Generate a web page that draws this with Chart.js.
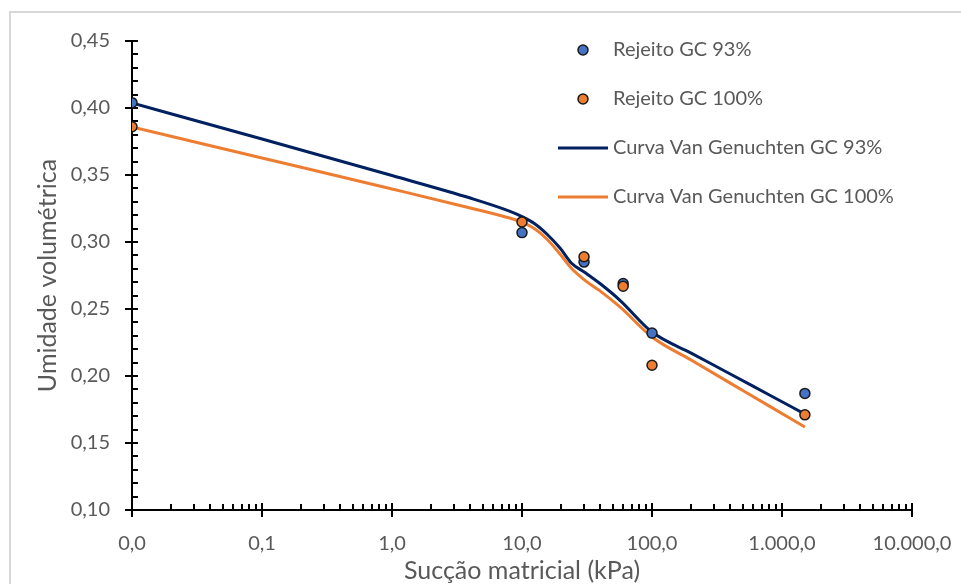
<!DOCTYPE html>
<html>
<head>
<meta charset="utf-8">
<script src="https://cdn.jsdelivr.net/npm/chart.js@4.4.0/dist/chart.umd.min.js"></script>
<style>
  body { margin: 0; background: #fff; }
  #wrap { width: 961px; height: 584px; }
</style>
</head>
<body>
<div id="wrap"><canvas id="swcc" width="961" height="584"></canvas></div>
<script>
  // ensaios (sucção em kPa, umidade volumétrica)
  const suctionLab = [0.01, 10, 30, 60, 100, 1500];
  const theta93 = [0.404, 0.307, 0.285, 0.269, 0.232, 0.187];
  const theta100 = [0.386, 0.315, 0.289, 0.267, 0.208, 0.171];

  // curvas de Van Genuchten ajustadas
  const suctionFit = [0.01, 0.1, 1, 4, 8, 10, 12.6, 15.8, 19.6, 24.2, 30.5, 39.8, 56.7, 100, 200, 400, 800, 1500];
  const fit93 = [0.4037, 0.3769, 0.3496, 0.3328, 0.3231, 0.3190, 0.3134, 0.3052, 0.2955, 0.2840, 0.2772, 0.2690, 0.2565, 0.2328, 0.2171, 0.2015, 0.1858, 0.1716];
  const fit100 = [0.3858, 0.3627, 0.3396, 0.3254, 0.3179, 0.3149, 0.3097, 0.3015, 0.2910, 0.2800, 0.2714, 0.2635, 0.2515, 0.2291, 0.2119, 0.1947, 0.1775, 0.1619];

  const xTickValues = [0.01, 0.1, 1, 10, 100, 1000, 10000];
  const xTickLabels = ['0,0', '0,1', '1,0', '10,0', '100,0', '1.000,0', '10.000,0'];
  const yTickValues = [0.10, 0.15, 0.20, 0.25, 0.30, 0.35, 0.40, 0.45];
  const yTickLabels = ['0,10', '0,15', '0,20', '0,25', '0,30', '0,35', '0,40', '0,45'];

  const BLUE = '#4472C4';
  const NAVY = '#002060';
  const ORANGE = '#ED7D31';
  const TEXT = '#595959';
  const FONT = 'Lato';

  const pts = (xs, ys) => xs.map((x, i) => ({ x: x, y: ys[i] }));

  // moldura cinza da área do gráfico
  const frame = {
    id: 'frame',
    beforeDraw(chart) {
      const ctx = chart.ctx;
      ctx.save();
      ctx.strokeStyle = '#d9d9d9';
      ctx.lineWidth = 2;
      ctx.beginPath();
      ctx.moveTo(10, chart.height);
      ctx.lineTo(10, 12);
      ctx.lineTo(chart.width, 12);
      ctx.stroke();
      ctx.restore();
    }
  };

  // eixos com marcas principais cruzadas e secundárias internas
  const axesTicks = {
    id: 'axesTicks',
    beforeDatasetsDraw(chart) {
      const { ctx, chartArea: a, scales: { x, y } } = chart;
      ctx.save();
      ctx.strokeStyle = '#000';
      ctx.lineWidth = 2;
      ctx.beginPath();
      ctx.moveTo(a.left, a.top);
      ctx.lineTo(a.left, a.bottom);
      ctx.lineTo(a.right, a.bottom);

      yTickValues.forEach(v => {
        const py = Math.round(y.getPixelForValue(v));
        ctx.moveTo(a.left - 7, py);
        ctx.lineTo(a.left + 6, py);
      });
      for (let v = 0.11; v < 0.45; v += 0.01) {
        const py = Math.round(y.getPixelForValue(v));
        ctx.moveTo(a.left, py);
        ctx.lineTo(a.left + 6, py);
      }

      xTickValues.forEach(v => {
        const px = Math.round(x.getPixelForValue(v));
        ctx.moveTo(px, a.bottom - 7);
        ctx.lineTo(px, a.bottom + 7);
      });
      xTickValues.slice(0, -1).forEach(dec => {
        for (let k = 2; k <= 9; k++) {
          const px = Math.round(x.getPixelForValue(dec * k));
          ctx.moveTo(px, a.bottom - 6);
          ctx.lineTo(px, a.bottom);
        }
      });
      ctx.stroke();
      ctx.restore();
    }
  };

  // legenda dentro da área do gráfico
  const insideLegend = {
    id: 'insideLegend',
    afterDraw(chart) {
      const ctx = chart.ctx;
      ctx.save();
      ctx.font = '20px ' + FONT;
      ctx.textBaseline = 'middle';
      ctx.textAlign = 'left';
      chart.data.datasets.forEach((ds, i) => {
        const ly = 50 + i * 49;
        if (ds.showLine) {
          ctx.strokeStyle = ds.borderColor;
          ctx.lineWidth = 3;
          ctx.beginPath();
          ctx.moveTo(558, ly);
          ctx.lineTo(608, ly);
          ctx.stroke();
        } else {
          ctx.fillStyle = ds.backgroundColor;
          ctx.strokeStyle = ds.borderColor;
          ctx.lineWidth = 1.5;
          ctx.beginPath();
          ctx.arc(583, ly, 5, 0, Math.PI * 2);
          ctx.fill();
          ctx.stroke();
        }
        ctx.fillStyle = TEXT;
        ctx.fillText(ds.label, 613, ly);
      });
      ctx.restore();
    }
  };

  new Chart(document.getElementById('swcc'), {
    type: 'scatter',
    data: {
      datasets: [
        {
          label: 'Rejeito GC 93%',
          data: pts(suctionLab, theta93),
          backgroundColor: BLUE,
          borderColor: '#1a1a1a',
          borderWidth: 1.5,
          pointRadius: 5,
          showLine: false,
          order: 2
        },
        {
          label: 'Rejeito GC 100%',
          data: pts(suctionLab, theta100),
          backgroundColor: ORANGE,
          borderColor: '#1a1a1a',
          borderWidth: 1.5,
          pointRadius: 5,
          showLine: false,
          order: 1
        },
        {
          label: 'Curva Van Genuchten GC 93%',
          data: pts(suctionFit, fit93),
          borderColor: NAVY,
          borderWidth: 3,
          pointRadius: 0,
          showLine: true,
          cubicInterpolationMode: 'monotone',
          order: 3
        },
        {
          label: 'Curva Van Genuchten GC 100%',
          data: pts(suctionFit, fit100),
          borderColor: ORANGE,
          borderWidth: 3,
          pointRadius: 0,
          showLine: true,
          cubicInterpolationMode: 'monotone',
          order: 4
        }
      ]
    },
    options: {
      responsive: false,
      animation: false,
      layout: { padding: { left: 10, top: 41, right: 49, bottom: 0 } },
      plugins: {
        legend: { display: false },
        tooltip: { enabled: false }
      },
      scales: {
        x: {
          type: 'logarithmic',
          min: 0.01,
          max: 10000,
          grid: { display: false, drawTicks: false },
          border: { display: false },
          afterBuildTicks: s => { s.ticks = xTickValues.map(v => ({ value: v })); },
          afterFit: s => {
            s.height = 74;
            s.paddingLeft = 0;
            s.paddingRight = 0;
          },
          ticks: {
            autoSkip: false,
            maxRotation: 0,
            padding: 22,
            color: TEXT,
            font: { family: FONT, size: 20 },
            callback: (v, i) => xTickLabels[i]
          },
          title: {
            display: true,
            text: 'Sucção matricial (kPa)',
            color: TEXT,
            font: { family: FONT, size: 25, lineHeight: 1 },
            padding: { top: 0, bottom: 1 }
          }
        },
        y: {
          min: 0.10,
          max: 0.45,
          grid: { display: false, drawTicks: false },
          border: { display: false },
          afterBuildTicks: s => { s.ticks = yTickValues.map(v => ({ value: v })); },
          afterFit: s => {
            s.width = 122;
            s.paddingTop = 0;
            s.paddingBottom = 0;
          },
          ticks: {
            padding: 22,
            color: TEXT,
            font: { family: FONT, size: 20 },
            callback: (v, i) => yTickLabels[i]
          },
          title: {
            display: true,
            text: 'Umidade volumétrica',
            color: TEXT,
            font: { family: FONT, size: 25, lineHeight: 1 },
            padding: { top: 25, bottom: 0 }
          }
        }
      }
    },
    plugins: [frame, axesTicks, insideLegend]
  });
</script>
</body>
</html>
